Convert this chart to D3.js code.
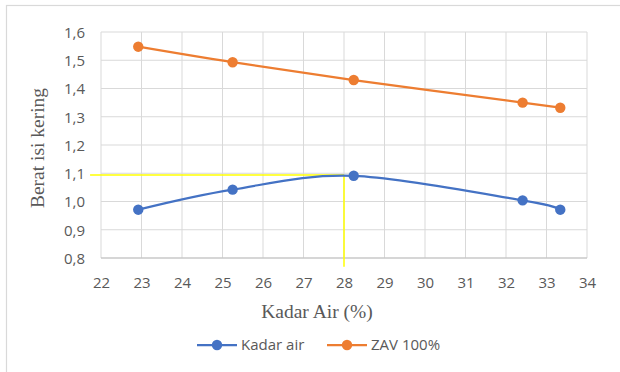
<!DOCTYPE html>
<html>
<head>
<meta charset="utf-8">
<script src="https://cdn.jsdelivr.net/npm/d3@7"></script>
<style>
  html, body { margin: 0; padding: 0; background: #fff; }
  svg { display: block; }
</style>
</head>
<body>
<svg id="chart" width="620" height="372"></svg>
<script>
// Moisture content (%) against dry density
const kadarAirX = [22.92, 25.25, 28.24, 32.41, 33.34];
const kadarAirY = [0.971, 1.042, 1.091, 1.004, 0.971];
const zavX = [22.92, 25.25, 28.24, 32.41, 33.34];
const zavY = [1.548, 1.493, 1.430, 1.350, 1.332];
const xTicks = [22, 23, 24, 25, 26, 27, 28, 29, 30, 31, 32, 33, 34];
const yTicks = [0.8, 0.9, 1.0, 1.1, 1.2, 1.3, 1.4, 1.5, 1.6];
// Optimum moisture content guide
const optX = 28;
const optY = 1.094;
const seriesNames = ["Kadar air", "ZAV 100%"];

const svg = d3.select("#chart");
const W = 620, H = 372;
const m = { left: 101, right: 33, top: 32, bottom: 114 };

// Chart frame
svg.append("rect").attr("x", 6.5).attr("y", 5.5).attr("width", W).attr("height", H)
  .attr("fill", "#fff").attr("stroke", "#d9d9d9").attr("stroke-width", 1.2);

const x = d3.scaleLinear().domain([22, 34]).range([m.left, W - m.right]);
const y = d3.scaleLinear().domain([0.8, 1.6]).range([H - m.bottom, m.top]);

const tickFont = "'Open Sans', sans-serif";
const serifFont = "'Liberation Serif', 'Times New Roman', serif";
const grid = svg.append("g");
grid.selectAll("line.v").data(xTicks).join("line")
  .attr("x1", d => x(d)).attr("x2", d => x(d))
  .attr("y1", y(1.6)).attr("y2", y(0.8))
  .attr("stroke", "#d9d9d9").attr("stroke-width", 1);
grid.selectAll("line.h").data(yTicks).join("line")
  .attr("x1", x(22)).attr("x2", x(34))
  .attr("y1", d => y(d)).attr("y2", d => y(d))
  .attr("stroke", "#d9d9d9").attr("stroke-width", 1);
// Horizontal axis line
svg.append("line").attr("x1", x(22)).attr("x2", x(34))
  .attr("y1", y(0.8)).attr("y2", y(0.8))
  .attr("stroke", "#bfbfbf").attr("stroke-width", 1.2);

const fmt = d => d3.format(".1f")(d).replace(".", ",");

// Axes
const xAxis = d3.axisBottom(x).tickValues(xTicks).tickSize(0).tickPadding(0).tickFormat(d3.format("d"));
const gx = svg.append("g").attr("transform", `translate(0,${y(0.8)})`).call(xAxis);
gx.select(".domain").remove();
gx.selectAll("text").attr("dy", 0).attr("y", 30)
  .attr("font-family", tickFont).attr("font-size", 15).attr("fill", "#595959");

const yAxis = d3.axisLeft(y).tickValues(yTicks).tickSize(0).tickPadding(0).tickFormat(fmt);
const gy = svg.append("g").attr("transform", `translate(${x(22)},0)`).call(yAxis);
gy.select(".domain").remove();
gy.selectAll("text").attr("x", -16).attr("dy", "0.35em")
  .attr("font-family", tickFont).attr("font-size", 15).attr("fill", "#595959");

// Yellow guide lines
svg.append("line").attr("x1", x(21.73)).attr("x2", x(optX))
  .attr("y1", y(optY)).attr("y2", y(optY))
  .attr("stroke", "#ffff00").attr("stroke-width", 1.5);
svg.append("line").attr("x1", x(optX)).attr("x2", x(optX))
  .attr("y1", y(optY)).attr("y2", y(0.769))
  .attr("stroke", "#ffff00").attr("stroke-width", 1.5);

const colors = ["#4472c4", "#ed7d31"];
const line = d3.line().x(d => x(d[0])).y(d => y(d[1])).curve(d3.curveCardinal.tension(0));
const series = [
  d3.zip(kadarAirX, kadarAirY),
  d3.zip(zavX, zavY)
];
series.forEach((pts, i) => {
  svg.append("path").datum(pts).attr("d", line)
    .attr("fill", "none").attr("stroke", colors[i]).attr("stroke-width", 2.25);
  svg.append("g").selectAll("circle").data(pts).join("circle")
    .attr("cx", d => x(d[0])).attr("cy", d => y(d[1])).attr("r", 5.2)
    .attr("fill", colors[i]);
});

// Axis titles
svg.append("text").attr("x", 317).attr("y", 318).attr("text-anchor", "middle")
  .attr("font-family", serifFont).attr("font-size", 19.5)
  .attr("fill", "#595959").text("Kadar Air (%)");
svg.append("text").attr("transform", `translate(44,148) rotate(-90)`)
  .attr("text-anchor", "middle")
  .attr("font-family", serifFont).attr("font-size", 19.5)
  .attr("fill", "#595959").text("Berat isi kering");

// Legend
const legX = [197, 327];
const legend = svg.append("g");
seriesNames.forEach((name, i) => {
  const g = legend.append("g").attr("transform", `translate(${legX[i]},345)`);
  g.append("line").attr("x1", 0).attr("x2", 40).attr("y1", 0).attr("y2", 0)
    .attr("stroke", colors[i]).attr("stroke-width", 2.25);
  g.append("circle").attr("cx", 20).attr("cy", 0).attr("r", 5.2).attr("fill", colors[i]);
  g.append("text").attr("x", 44).attr("dy", "0.35em")
    .attr("font-family", tickFont).attr("font-size", 15).attr("fill", "#595959").text(name);
});
</script>
</body>
</html>
